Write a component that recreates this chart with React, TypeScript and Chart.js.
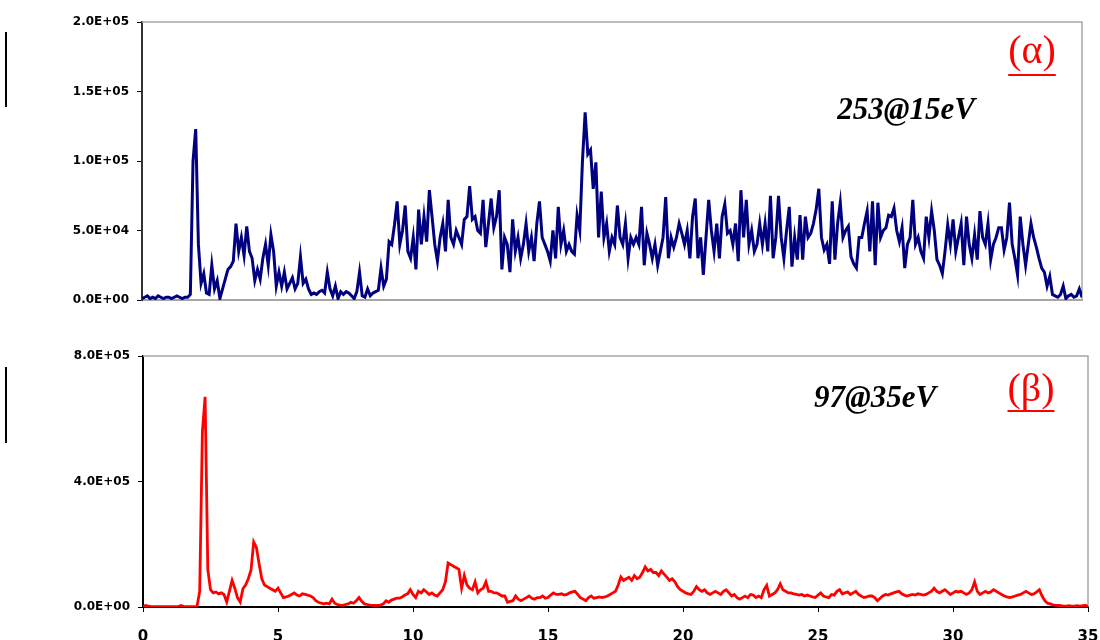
import React, { useEffect, useRef } from 'react';
import { Chart, registerables } from 'chart.js';

Chart.register(...registerables);

// ---- data ----
const X_STEP = 0.1; // spacing of the recorded samples along x
const X_MIN = 0;
const X_MAX = 35;
const X_TICK_STEP = 5;
const TOP_Y_MAX = 200000;
const TOP_Y_STEP = 50000;
const BOTTOM_Y_MAX = 800000;
const BOTTOM_Y_STEP = 400000;

const TOP_LABEL = '253@15eV';
const TOP_TAG = '(α)';
const BOTTOM_LABEL = '97@35eV';
const BOTTOM_TAG = '(β)';

// intensities in thousands, one row per unit of x (samples every 0.1)
const topValuesK = [
  1, 2, 3, 1, 2, 1, 3, 2, 1, 2,
  2, 1, 2, 3, 2, 1, 2, 2, 4, 100,
  123, 40, 12, 19, 5, 4, 25, 8, 14, 1,
  8, 15, 22, 24, 28, 55, 35, 45, 32, 53,
  35, 30, 14, 22, 15, 30, 40, 25, 47, 35,
  10, 20, 10, 20, 8, 12, 16, 8, 12, 31,
  12, 15, 8, 4, 5, 4, 6, 7, 5, 20,
  8, 3, 10, 1, 6, 4, 6, 5, 3, 1,
  6, 20, 3, 2, 8, 3, 5, 6, 7, 23,
  10, 15, 42, 40, 54, 71, 40, 50, 68, 35,
  30, 45, 22, 65, 40, 60, 42, 79, 60, 40,
  28, 45, 55, 35, 72, 45, 40, 50, 45, 40,
  58, 60, 82, 58, 60, 50, 48, 72, 38, 55,
  73, 52, 60, 79, 22, 45, 40, 20, 58, 35,
  45, 30, 40, 55, 35, 45, 28, 55, 71, 45,
  40, 35, 28, 50, 30, 67, 40, 50, 35, 40,
  35, 33, 61, 50, 100, 135, 105, 108, 80, 99,
  45, 78, 45, 55, 35, 45, 40, 68, 45, 40,
  55, 30, 45, 40, 45, 40, 67, 25, 48, 40,
  30, 40, 25, 35, 45, 74, 30, 45, 38, 45,
  55, 48, 40, 50, 30, 60, 73, 30, 45, 18,
  45, 72, 50, 35, 55, 30, 60, 69, 48, 50,
  40, 55, 28, 79, 45, 72, 40, 50, 35, 40,
  55, 40, 55, 35, 75, 30, 45, 75, 45, 30,
  50, 67, 24, 45, 29, 61, 29, 60, 45, 48,
  55, 65, 80, 45, 36, 40, 26, 71, 29, 55,
  70, 45, 50, 53, 31, 26, 23, 45, 45, 55,
  64, 35, 71, 25, 70, 45, 50, 52, 61, 60,
  66, 50, 42, 52, 23, 40, 45, 72, 40, 45,
  35, 30, 60, 45, 64, 50, 29, 25, 19, 35,
  54, 40, 58, 35, 45, 55, 25, 60, 40, 30,
  47, 29, 64, 45, 40, 55, 29, 40, 45, 52,
  52, 36, 45, 70, 40, 30, 18, 60, 40, 25,
  40, 55, 45, 38, 30, 23, 20, 10, 17, 4,
  3, 2, 4, 10, 1, 3, 4, 2, 3, 8,
  2,
];

const bottomValuesK = [
  2, 5, 3, 1, 1, 1, 1, 1, 1, 1,
  1, 1, 1, 1, 5, 2, 1, 1, 1, 1,
  2, 50, 560, 670, 120, 55, 45, 48, 42, 45,
  40, 16, 50, 85, 60, 30, 16, 58, 70, 90,
  117, 207, 190, 138, 90, 70, 65, 60, 55, 50,
  60, 45, 30, 32, 35, 40, 45, 38, 35, 42,
  40, 38, 35, 30, 20, 15, 12, 10, 12, 10,
  25, 12, 8, 6, 5, 8, 10, 15, 12, 20,
  30, 18, 10, 8, 6, 5, 5, 5, 6, 10,
  20, 15, 22, 25, 28, 28, 32, 38, 42, 55,
  40, 30, 50, 45, 55, 48, 40, 45, 38, 35,
  45, 55, 80, 140, 135, 130, 125, 120, 60, 100,
  70, 60, 55, 80, 45, 55, 60, 80, 50, 50,
  45, 45, 40, 35, 35, 15, 18, 20, 35, 25,
  20, 25, 30, 35, 28, 25, 30, 30, 35, 28,
  30, 38, 45, 40, 40, 42, 38, 40, 45, 48,
  50, 40, 30, 25, 20, 30, 35, 28, 30, 32,
  30, 32, 35, 40, 45, 50, 70, 96, 85, 90,
  95, 85, 100, 90, 95, 110, 128, 115, 120, 110,
  110, 100, 115, 105, 95, 85, 90, 80, 65, 55,
  50, 45, 42, 40, 50, 65, 55, 50, 55, 45,
  40, 45, 50, 45, 40, 50, 55, 45, 35, 40,
  30, 25, 30, 35, 30, 40, 38, 30, 35, 30,
  55, 69, 35, 40, 45, 55, 74, 55, 50, 45,
  45, 42, 40, 38, 40, 35, 38, 35, 32, 30,
  38, 45, 35, 32, 30, 40, 38, 50, 55, 42,
  45, 48, 40, 45, 50, 40, 35, 30, 32, 35,
  35, 30, 20, 28, 35, 40, 38, 42, 45, 48,
  50, 42, 38, 35, 38, 40, 38, 42, 40, 38,
  40, 45, 50, 60, 50, 45, 50, 55, 48, 40,
  45, 50, 48, 50, 45, 40, 45, 55, 80, 50,
  40, 45, 50, 45, 48, 55, 50, 45, 40, 35,
  32, 30, 32, 35, 38, 40, 45, 50, 45, 40,
  42, 48, 55, 35, 20, 12, 10, 7, 5, 5,
  4, 3, 3, 4, 3, 3, 4, 3, 4, 6,
  1,
];

// ---- helpers ----
function toPoints(valuesK: number[]) {
  return valuesK.map((v, i) => ({ x: Math.round(i * X_STEP * 10) / 10, y: v * 1000 }));
}

function sci(value: number | string): string {
  const v = Number(value);
  if (v === 0) return '0.0E+00';
  let e = Math.floor(Math.log10(Math.abs(v)));
  let m = v / Math.pow(10, e);
  if (Number(m.toFixed(1)) >= 10) {
    m /= 10;
    e += 1;
  }
  return m.toFixed(1) + 'E' + (e >= 0 ? '+' : '-') + String(Math.abs(e)).padStart(2, '0');
}

const TICK_FONT_Y = { family: '"DejaVu Sans", sans-serif', weight: 'bold' as const, size: 12 };
const TICK_FONT_X = { family: '"DejaVu Sans", sans-serif', weight: 'bold' as const, size: 15 };

type Decor = {
  label: string;
  labelX: number;
  labelY: number;
  tag: string;
  tagX: number;
  tagY: number;
  underlineY: number;
  barTop: number;
  barHeight: number;
};

function decorPlugin(d: Decor) {
  return {
    id: 'decor',
    beforeDatasetsDraw(chart: any) {
      const { ctx, chartArea } = chart;
      ctx.save();
      ctx.strokeStyle = '#a6a6a6';
      ctx.lineWidth = 1.5;
      ctx.beginPath();
      ctx.moveTo(chartArea.left, chartArea.top);
      ctx.lineTo(chartArea.right, chartArea.top);
      ctx.lineTo(chartArea.right, chartArea.bottom);
      ctx.stroke();
      ctx.restore();
    },
    afterDraw(chart: any) {
      const { ctx } = chart;
      ctx.save();
      ctx.fillStyle = '#000';
      ctx.fillRect(5, d.barTop, 2, d.barHeight);

      ctx.font = 'italic bold 31px "Liberation Serif", serif';
      ctx.textAlign = 'center';
      ctx.textBaseline = 'alphabetic';
      ctx.fillStyle = '#000';
      ctx.fillText(d.label, d.labelX, d.labelY);

      ctx.font = '40px "Liberation Serif", serif';
      ctx.fillStyle = '#ff0000';
      ctx.fillText(d.tag, d.tagX, d.tagY);
      const w = ctx.measureText(d.tag).width;
      ctx.fillRect(d.tagX - w / 2, d.underlineY, w, 2);
      ctx.restore();
    },
  };
}

function buildTop(): any {
  return {
    type: 'line',
    data: {
      datasets: [
        {
          data: toPoints(topValuesK),
          borderColor: '#000080',
          borderWidth: 3,
          pointRadius: 0,
          tension: 0,
          fill: false,
        },
      ],
    },
    options: {
      animation: false,
      responsive: false,
      maintainAspectRatio: false,
      events: [],
      layout: { padding: { left: 0, right: 18, top: 22, bottom: 20 } },
      plugins: { legend: { display: false }, tooltip: { enabled: false } },
      scales: {
        x: {
          type: 'linear',
          min: X_MIN,
          max: X_MAX,
          ticks: { display: false, stepSize: X_TICK_STEP },
          grid: { display: false },
          border: { display: true, color: '#a6a6a6', width: 2 },
          afterFit: (s: any) => {
            s.height = 0;
            s.paddingLeft = 0;
            s.paddingRight = 0;
          },
        },
        y: {
          min: 0,
          max: TOP_Y_MAX,
          ticks: { stepSize: TOP_Y_STEP, callback: sci, font: TICK_FONT_Y, color: '#000', padding: 8 },
          grid: { drawOnChartArea: false, drawTicks: true, tickLength: 5, color: '#000', lineWidth: 1 },
          border: { display: true, color: '#333', width: 2 },
          afterFit: (s: any) => {
            s.width = 142;
          },
        },
      },
    },
    plugins: [
      decorPlugin({
        label: TOP_LABEL,
        labelX: 906,
        labelY: 119,
        tag: TOP_TAG,
        tagX: 1032,
        tagY: 63,
        underlineY: 74,
        barTop: 32,
        barHeight: 75,
      }),
    ],
  };
}

function buildBottom(): any {
  return {
    type: 'line',
    data: {
      datasets: [
        {
          data: toPoints(bottomValuesK),
          borderColor: '#ff0000',
          borderWidth: 2.8,
          pointRadius: 0,
          tension: 0,
          fill: false,
        },
      ],
    },
    options: {
      animation: false,
      responsive: false,
      maintainAspectRatio: false,
      events: [],
      layout: { padding: { left: 0, right: 12, top: 36, bottom: 0 } },
      plugins: { legend: { display: false }, tooltip: { enabled: false } },
      scales: {
        x: {
          type: 'linear',
          min: X_MIN,
          max: X_MAX,
          ticks: { stepSize: X_TICK_STEP, font: TICK_FONT_X, color: '#000', padding: 16, maxRotation: 0 },
          grid: { drawOnChartArea: false, drawTicks: true, tickLength: 5, color: '#000', lineWidth: 1 },
          border: { display: true, color: '#000', width: 2 },
          afterFit: (s: any) => {
            s.height = 33;
            s.paddingLeft = 0;
            s.paddingRight = 0;
          },
        },
        y: {
          min: 0,
          max: BOTTOM_Y_MAX,
          ticks: { stepSize: BOTTOM_Y_STEP, callback: sci, font: TICK_FONT_Y, color: '#000', padding: 8 },
          grid: { drawOnChartArea: false, drawTicks: true, tickLength: 5, color: '#000', lineWidth: 1 },
          border: { display: true, color: '#000', width: 2 },
          afterFit: (s: any) => {
            s.width = 143;
          },
        },
      },
    },
    plugins: [
      decorPlugin({
        label: BOTTOM_LABEL,
        labelX: 875,
        labelY: 87,
        tag: BOTTOM_TAG,
        tagX: 1031,
        tagY: 81,
        underlineY: 90,
        barTop: 47,
        barHeight: 76,
      }),
    ],
  };
}

function Panel({ build, top, height }: { build: () => any; top: number; height: number }) {
  const ref = useRef<HTMLCanvasElement>(null);
  useEffect(() => {
    if (!ref.current) return;
    const chart = new Chart(ref.current, build());
    return () => chart.destroy();
  }, [build]);
  return (
    <canvas
      ref={ref}
      width={1100}
      height={height}
      style={{ position: 'absolute', left: 0, top, width: 1100, height, display: 'block' }}
    />
  );
}

export default function App() {
  return (
    <div
      style={{
        position: 'fixed',
        left: 0,
        top: 0,
        width: 1100,
        height: 640,
        background: '#fff',
        overflow: 'hidden',
      }}
    >
      <Panel build={buildTop} top={0} height={320} />
      <Panel build={buildBottom} top={320} height={320} />
    </div>
  );
}
